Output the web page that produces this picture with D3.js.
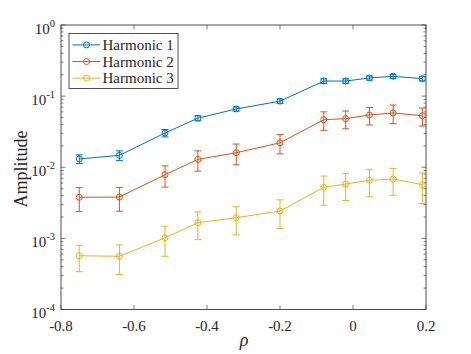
<!DOCTYPE html>
<html>
<head>
<meta charset="utf-8">
<script src="https://cdn.jsdelivr.net/npm/d3@7"></script>
<style>
body { margin: 0; background: #fff; }
</style>
</head>
<body>
<script>
// data
var rho = [-0.75, -0.64, -0.515, -0.425, -0.32, -0.2, -0.08, -0.02, 0.045, 0.11, 0.19];
var h1 = [0.0131, 0.0147, 0.0303, 0.0490, 0.0660, 0.0850, 0.163, 0.163, 0.180, 0.190, 0.176];
var h1err = [0.0018, 0.0023, 0.0036, 0.0040, 0.0045, 0.0060, 0.012, 0.012, 0.012, 0.012, 0.012];
var h2 = [0.00378, 0.00381, 0.00786, 0.0129, 0.0160, 0.0221, 0.0466, 0.0482, 0.0543, 0.0580, 0.0530];
var h2err = [0.0014, 0.0014, 0.0026, 0.0041, 0.0052, 0.0067, 0.0135, 0.0135, 0.015, 0.017, 0.015];
var h3 = [0.00057, 0.00056, 0.00102, 0.00166, 0.00195, 0.00243, 0.00522, 0.00581, 0.00655, 0.00684, 0.00569];
var h3err = [0.00023, 0.00025, 0.00046, 0.0007, 0.00083, 0.00105, 0.0023, 0.0024, 0.0027, 0.0028, 0.0026];
var names = ["Harmonic 1", "Harmonic 2", "Harmonic 3"];
var colors = ["#0072BD", "#D95319", "#EDB120"];
var xTicks = [-0.8, -0.6, -0.4, -0.2, 0, 0.2];
var yExps = [-4, -3, -2, -1, 0];

var W = 471, H = 354;
var m = {left: 61, right: 45, top: 25, bottom: 44.5};
var iw = W - m.left - m.right, ih = H - m.top - m.bottom;
var serif = "Liberation Serif";

var svg = d3.select("body").append("svg").attr("width", W).attr("height", H);
var g = svg.append("g").attr("transform", "translate(" + m.left + "," + m.top + ")");

var x = d3.scaleLinear().domain([-0.8, 0.2]).range([0, iw]);
var y = d3.scaleLog().domain([1e-4, 1]).range([ih, 0]);

var axisColor = "#262626";

// minor ticks on log axis
var minor = [];
for (var e = -4; e < 0; e++) {
  for (var k = 2; k <= 9; k++) minor.push(k * Math.pow(10, e));
}

function tickLines(sel, vals, len, side) {
  sel.selectAll(null).data(vals).enter().append("line")
    .attr("x1", side === "left" ? 0 : iw)
    .attr("x2", side === "left" ? len : iw - len)
    .attr("y1", function(d) { return y(d); })
    .attr("y2", function(d) { return y(d); })
    .attr("stroke", axisColor).attr("stroke-width", 0.6);
}
var yt = g.append("g");
tickLines(yt, minor, 2.5, "left");
tickLines(yt, minor, 2.5, "right");
tickLines(yt, yExps.map(function(p) { return Math.pow(10, p); }), 4.5, "left");
tickLines(yt, yExps.map(function(p) { return Math.pow(10, p); }), 4.5, "right");

var xt = g.append("g");
xt.selectAll(null).data(xTicks).enter().append("line")
  .attr("x1", function(d) { return x(d); }).attr("x2", function(d) { return x(d); })
  .attr("y1", ih).attr("y2", ih - 4.5)
  .attr("stroke", axisColor).attr("stroke-width", 0.6);
xt.selectAll(null).data(xTicks).enter().append("line")
  .attr("x1", function(d) { return x(d); }).attr("x2", function(d) { return x(d); })
  .attr("y1", 0).attr("y2", 4.5)
  .attr("stroke", axisColor).attr("stroke-width", 0.6);

// box
g.append("rect").attr("width", iw).attr("height", ih)
  .attr("fill", "none").attr("stroke", axisColor).attr("stroke-width", 0.8);

// x tick labels (plain hyphen minus like the original)
g.selectAll(".xl").data(xTicks).enter().append("text")
  .attr("x", function(d) { return x(d); })
  .attr("y", ih + 21)
  .attr("text-anchor", "middle")
  .attr("fill", axisColor)
  .attr("font-family", serif)
  .attr("font-size", 15)
  .text(function(d) { return d === 0 ? "0" : d.toFixed(1); });

// y tick labels with superscripts
var yl = g.selectAll(".yl").data(yExps).enter().append("text")
  .attr("x", -6)
  .attr("y", function(d) { return y(Math.pow(10, d)) + 8.5; })
  .attr("text-anchor", "end")
  .attr("fill", axisColor)
  .attr("font-family", serif)
  .attr("font-size", 15);
yl.append("tspan").text("10");
yl.append("tspan").attr("dy", -7).attr("font-size", 10.5).text(function(d) { return String(d); });

// axis labels
svg.append("text")
  .attr("transform", "translate(27,169) rotate(-90)")
  .attr("text-anchor", "middle")
  .attr("fill", axisColor)
  .attr("font-family", serif)
  .attr("font-size", 18)
  .text("Amplitude");
svg.append("text")
  .attr("x", m.left + iw / 2 + 0.5).attr("y", 346)
  .attr("text-anchor", "middle")
  .attr("fill", axisColor)
  .attr("font-family", serif)
  .attr("font-size", 18).attr("font-style", "italic")
  .text("ρ");

// series
var series = [
  {vals: h1, err: h1err},
  {vals: h2, err: h2err},
  {vals: h3, err: h3err}
];
var line = d3.line().x(function(d) { return x(d.r); }).y(function(d) { return y(d.v); });

series.forEach(function(s, i) {
  var pts = rho.map(function(r, j) { return {r: r, v: s.vals[j], e: s.err[j]}; });
  var sg = g.append("g");
  sg.append("path").datum(pts).attr("d", line)
    .attr("fill", "none").attr("stroke", colors[i]).attr("stroke-width", 1);
  var eb = sg.selectAll(null).data(pts).enter().append("g");
  eb.append("line")
    .attr("x1", function(d) { return x(d.r); }).attr("x2", function(d) { return x(d.r); })
    .attr("y1", function(d) { return y(d.v + d.e); }).attr("y2", function(d) { return y(d.v - d.e); })
    .attr("stroke", colors[i]).attr("stroke-width", 1);
  [1, -1].forEach(function(sgn) {
    eb.append("line")
      .attr("x1", function(d) { return x(d.r) - 3.5; }).attr("x2", function(d) { return x(d.r) + 3.5; })
      .attr("y1", function(d) { return y(d.v + sgn * d.e); }).attr("y2", function(d) { return y(d.v + sgn * d.e); })
      .attr("stroke", colors[i]).attr("stroke-width", 1);
  });
  sg.selectAll("circle").data(pts).enter().append("circle")
    .attr("cx", function(d) { return x(d.r); }).attr("cy", function(d) { return y(d.v); })
    .attr("r", 3).attr("fill", "none").attr("stroke", colors[i]).attr("stroke-width", 1);
});

// legend
var lg = svg.append("g").attr("transform", "translate(69,33.5)");
lg.append("rect").attr("width", 109).attr("height", 55)
  .attr("fill", "#fff").attr("stroke", axisColor).attr("stroke-width", 0.8);
names.forEach(function(n, i) {
  var yy = 11.4 + i * 16.6;
  lg.append("line").attr("x1", 3.5).attr("x2", 31).attr("y1", yy).attr("y2", yy)
    .attr("stroke", colors[i]).attr("stroke-width", 1);
  lg.append("circle").attr("cx", 17.5).attr("cy", yy).attr("r", 3)
    .attr("fill", "none").attr("stroke", colors[i]).attr("stroke-width", 1);
  lg.append("text").attr("x", 33.5).attr("y", yy + 5)
    .attr("fill", axisColor)
    .attr("font-family", serif)
    .attr("font-size", 15).text(n);
});
</script>
</body>
</html>
